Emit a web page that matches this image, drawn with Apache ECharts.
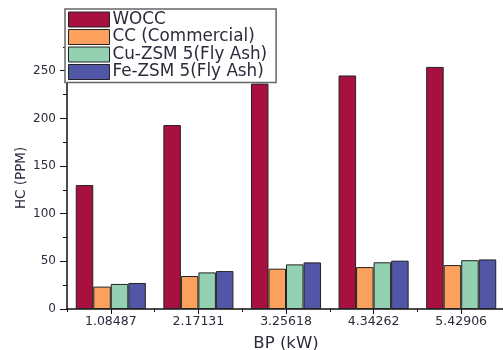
<!DOCTYPE html>
<html>
<head>
<meta charset="utf-8">
<script src="https://cdn.jsdelivr.net/npm/echarts@6/dist/echarts.min.js"></script>
<style>
  html, body { margin: 0; padding: 0; background: #fff; }
  #chart { width: 503px; height: 350px; }
</style>
</head>
<body>
<div id="chart"></div>
<script>
// Brake power (kW) operating points
const categories = ['1.08487', '2.17131', '3.25618', '4.34262', '5.42906'];

// HC emissions (PPM) per converter type
const wocc   = [130, 193, 236.5, 245, 254];
const cc     = [23.5, 34.6, 42.3, 44, 46.1];
const cuZsm5 = [26.3, 38.4, 46.8, 49, 51.2];
const feZsm5 = [27.3, 39.8, 48.9, 50.7, 52];

const seriesNames = ['WOCC', 'CC (Commercial)', 'Cu-ZSM 5(Fly Ash)', 'Fe-ZSM 5(Fly Ash)'];
const seriesColors = ['#A8113F', '#FBA05D', '#94D0B2', '#5157A6'];

const majorTicks = [0, 50, 100, 150, 200, 250];
const minorTicks = [25, 75, 125, 175, 225, 275];

const FONT = 'DejaVu Sans';
const TEXT = '#2b2b3b';

const chart = echarts.init(document.getElementById('chart'), null, { renderer: 'canvas' });

const seriesData = [wocc, cc, cuZsm5, feZsm5];

chart.setOption({
  animation: false,
  backgroundColor: '#fff',
  grid: { left: 67, top: 46.9, width: 438, bottom: 41, containLabel: false, outerBoundsMode: 'none' },
  legend: {
    orient: 'vertical',
    left: 65,
    top: 9,
    padding: [2, 9, 2, 3],
    itemWidth: 41,
    itemHeight: 15,
    itemGap: 0.5,
    backgroundColor: '#fff',
    borderColor: '#666',
    borderWidth: 1.5,
    borderRadius: 0,
    icon: 'rect',
    textStyle: { fontFamily: FONT, fontSize: 16.8, lineHeight: 16, color: TEXT, padding: [0, 0, 0, -2] },
    itemStyle: { borderColor: '#222', borderWidth: 1 },
    data: seriesNames
  },
  xAxis: [
    {
      type: 'category',
      data: categories,
      boundaryGap: true,
      name: 'BP (kW)',
      nameLocation: 'middle',
      nameGap: 26,
      nameTextStyle: { fontFamily: FONT, fontSize: 16.5, color: TEXT },
      axisLine: { lineStyle: { color: '#111', width: 1.5 } },
      axisTick: { show: true, alignWithLabel: true, length: 5, lineStyle: { color: '#111', width: 1 } },
      axisLabel: { fontFamily: FONT, fontSize: 12.5, color: TEXT, margin: 6 },
      splitLine: { show: false }
    },
    {
      // short boundary ticks between the category groups
      type: 'category',
      data: categories,
      position: 'bottom',
      boundaryGap: true,
      axisLine: { show: false },
      axisTick: { show: true, length: 3, lineStyle: { color: '#111', width: 1 } },
      axisLabel: { show: false },
      splitLine: { show: false }
    }
  ],
  yAxis: [
    {
      type: 'value',
      min: 0,
      max: 275,
      interval: 50,
      name: 'HC (PPM)',
      nameLocation: 'middle',
      nameGap: 39,
      nameMoveOverlap: false,
      nameTextStyle: { fontFamily: FONT, fontSize: 13.5, color: TEXT },
      axisLine: { show: true, lineStyle: { color: '#111', width: 1.5 } },
      axisTick: { show: true, length: 7, customValues: majorTicks, lineStyle: { color: '#111', width: 1 } },
      axisLabel: { fontFamily: FONT, fontSize: 12, color: TEXT, margin: 11, customValues: majorTicks },
      splitLine: { show: false }
    },
    {
      // minor ticks
      type: 'value',
      min: 0,
      max: 275,
      interval: 50,
      position: 'left',
      axisLine: { show: false },
      axisTick: { show: true, length: 4, customValues: minorTicks, lineStyle: { color: '#111', width: 1 } },
      axisLabel: { show: false },
      splitLine: { show: false }
    }
  ],
  series: seriesNames.map((name, i) => ({
    name: name,
    type: 'bar',
    xAxisIndex: 0,
    yAxisIndex: 0,
    data: seriesData[i],
    barGap: '0%',
    barCategoryGap: '20%',
    itemStyle: { color: seriesColors[i], borderColor: '#222', borderWidth: 1 }
  }))
});
</script>
</body>
</html>
